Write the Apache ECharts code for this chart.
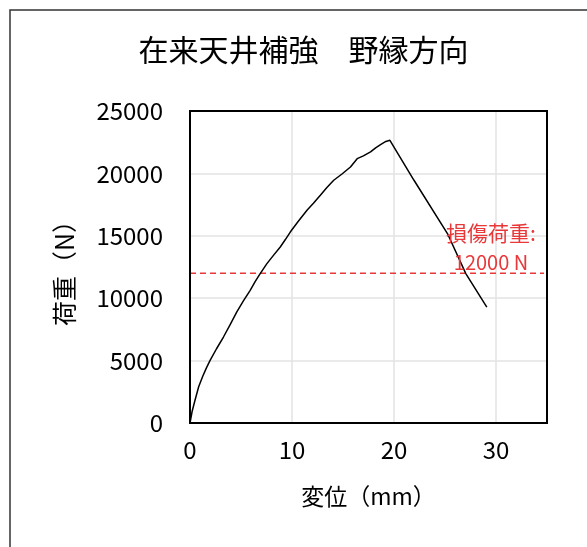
<!DOCTYPE html>
<html>
<head>
<meta charset="utf-8">
<script src="https://cdn.jsdelivr.net/npm/echarts@6/dist/echarts.min.js"></script>
<style>
html,body{margin:0;padding:0;background:#fff;}
#c{width:587px;height:547px;}
</style>
</head>
<body>
<div id="c"></div>
<script>
const titleText = '在来天井補強\u3000野縁方向';
const xAxisName = '変位（mm）';
const yAxisName = '荷重（N）';
const dispX = [0, 0.2, 0.49, 0.85, 1.25, 1.6, 1.97, 2.6, 3.28, 3.95, 4.59, 5.25, 5.9, 6.4, 6.88, 7.54, 8.2, 8.85, 9.35, 9.83, 10.6, 11.47, 12.1, 12.78, 13.4, 14.09, 14.9, 15.73, 16.39, 17.0, 17.7, 18.2, 18.68, 19.2, 19.6, 21.96, 25.24, 27.04, 29.1];
const loadY = [0, 900, 1820, 2900, 3740, 4400, 5020, 5950, 6890, 7900, 8900, 9800, 10630, 11350, 11970, 12770, 13450, 14100, 14700, 15300, 16150, 17040, 17600, 18250, 18850, 19450, 19950, 20510, 21180, 21400, 21720, 22050, 22310, 22560, 22650, 19450, 15180, 11970, 9290];
const damageLoad = 12000;
const damageLabel = ['損傷荷重:', '12000 N'];
const xTicks = [0, 10, 20, 30];
const yTicks = [0, 5000, 10000, 15000, 20000, 25000];

const FONT = '"Noto Sans CJK JP", "Noto Sans", sans-serif';
const curve = dispX.map((x, i) => [x, loadY[i]]);

const chart = echarts.init(document.getElementById('c'), null, {renderer: 'canvas'});
chart.setOption({
  animation: false,
  backgroundColor: '#fff',
  grid: {left: 190, top: 111, right: 40, bottom: 124, show: true, borderColor: '#000', borderWidth: 2, backgroundColor: 'transparent', z: 5},
  xAxis: {
    type: 'value', min: xTicks[0], max: 35, interval: 10,
    name: xAxisName, nameLocation: 'middle', nameGap: 62,
    nameTextStyle: {fontFamily: FONT, fontSize: 23, color: '#000'},
    axisLine: {show: false}, axisTick: {show: false},
    axisLabel: {fontFamily: FONT, fontSize: 24, color: '#000', margin: 15,
      formatter: v => xTicks.includes(v) ? String(v) : ''},
    splitLine: {show: true, lineStyle: {color: '#e3e3e3', width: 1.5}}
  },
  yAxis: {
    type: 'value', min: yTicks[0], max: yTicks[yTicks.length - 1], interval: 5000,
    name: yAxisName, nameLocation: 'middle', nameGap: 113, nameRotate: 90,
    nameTextStyle: {fontFamily: FONT, fontSize: 25, color: '#000'},
    axisLine: {show: false}, axisTick: {show: false},
    axisLabel: {fontFamily: FONT, fontSize: 24, color: '#000', margin: 27,
      formatter: v => String(v)},
    splitLine: {show: true, lineStyle: {color: '#e3e3e3', width: 1.5}}
  },
  series: [
    {
      type: 'line', data: curve, showSymbol: false, symbol: 'none',
      lineStyle: {color: '#000', width: 1.5}, z: 3
    },
    {
      type: 'line', data: [[0, damageLoad], [34.7, damageLoad]], showSymbol: false, symbol: 'none',
      lineStyle: {color: '#e8383a', width: 1.5, type: [6, 4]}, z: 2
    }
  ],
  graphic: [
    {type: 'rect', shape: {x: 10, y: 10, width: 620, height: 580}, style: {fill: 'none', stroke: '#333', lineWidth: 1.5}, silent: true},
    {type: 'text', x: 303.5, y: 50, style: {text: titleText, fontFamily: FONT, fontSize: 30, fill: '#000', align: 'center', verticalAlign: 'middle'}},
    {type: 'text', x: 491, y: 233, style: {text: damageLabel[0], fontFamily: FONT, fontSize: 21, fill: '#e8383a', align: 'center', verticalAlign: 'middle'}, z: 10},
    {type: 'text', x: 491, y: 262, style: {text: damageLabel[1], fontFamily: FONT, fontSize: 20, fill: '#e8383a', align: 'center', verticalAlign: 'middle'}, z: 10}
  ]
});
</script>
</body>
</html>
